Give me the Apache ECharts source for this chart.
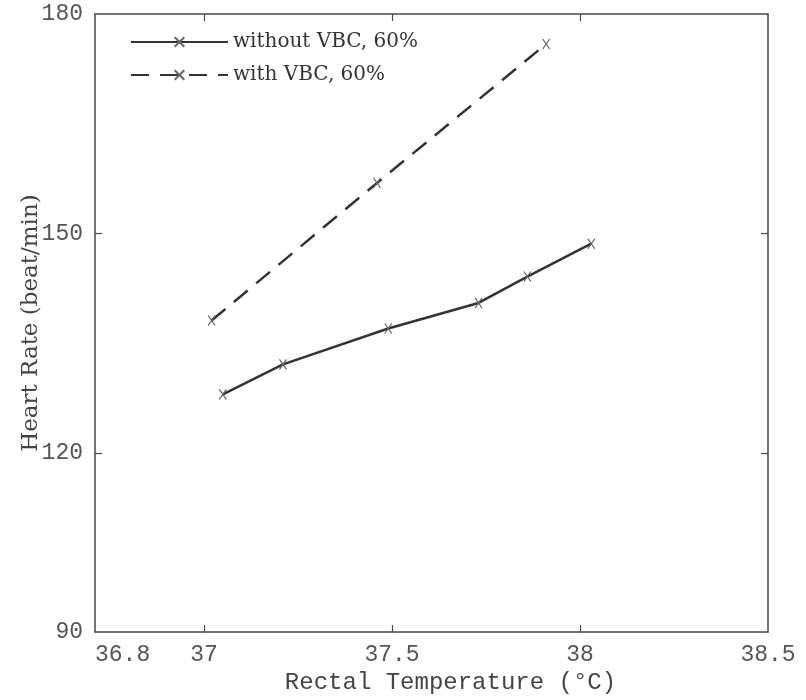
<!DOCTYPE html>
<html>
<head>
<meta charset="utf-8">
<script src="https://cdn.jsdelivr.net/npm/echarts@6/dist/echarts.min.js"></script>
<style>
  html, body { margin: 0; padding: 0; background: #ffffff; }
  #chart { width: 806px; height: 700px; }
</style>
</head>
<body>
<div id="chart"></div>
<script>
// ---- data ----
const seriesNames = ['without VBC, 60%', 'with VBC, 60%'];
const withoutX = [37.05, 37.21, 37.49, 37.73, 37.86, 38.03];
const withoutY = [128.0, 132.1, 137.0, 140.5, 144.1, 148.6];
const withX = [37.02, 37.46, 37.91];
const withY = [138.1, 156.9, 175.9];

// axis extents as drawn in the reference (corner labels sit at the frame corners)
const xMin = 36.71, xMax = 38.5;
const yMin = 95.5, yMax = 180;
const xTickValues = [37, 37.5, 38];
const xLabelValues = [36.71, 37, 37.5, 38, 38.5];
const xLabelTexts = ['36.8', '37', '37.5', '38', '38.5'];
const yTickValues = [120, 150];
const yLabelValues = [95.5, 120, 150, 180];
const yLabelTexts = ['90', '120', '150', '180'];

function labelFor(values, texts) {
  return function (v) {
    for (let i = 0; i < values.length; i++) {
      if (Math.abs(values[i] - v) < 1e-6) return texts[i];
    }
    return '';
  };
}
function pairs(xs, ys) { return xs.map((x, i) => [x, ys[i]]); }

const axisColor = '#484848';
const markSymbol = 'path://M0,0L6,10M6,0L0,10';

const chart = echarts.init(document.getElementById('chart'), null, { renderer: 'canvas' });
chart.setOption({
  backgroundColor: '#ffffff',
  animation: false,
  grid: { left: 95, right: 38, top: 14, bottom: 64, containLabel: false },
  legend: {
    data: seriesNames,
    orient: 'vertical',
    left: 125,
    top: 27,
    itemWidth: 97,
    itemHeight: 12,
    itemGap: 13,
    textStyle: { fontFamily: 'DejaVu Serif', fontSize: 20, color: '#333' }
  },
  xAxis: [
    {
      type: 'value', min: xMin, max: xMax, position: 'bottom',
      name: 'Rectal Temperature (°C)', nameLocation: 'middle', nameGap: 37,
      nameTextStyle: { fontFamily: 'Liberation Mono', fontSize: 24, color: '#444', padding: [0, 0, 0, 38] },
      axisLine: { show: true, lineStyle: { color: axisColor, width: 1.5 } },
      axisTick: { show: true, inside: true, length: 7, customValues: xTickValues, lineStyle: { color: axisColor, width: 1.2 } },
      axisLabel: {
        customValues: xLabelValues, formatter: labelFor(xLabelValues, xLabelTexts),
        alignMinLabel: 'left', margin: 11,
        fontFamily: 'Liberation Mono', fontSize: 23, color: '#555'
      },
      splitLine: { show: false }
    },
    {
      type: 'value', min: xMin, max: xMax, position: 'top',
      axisLine: { show: true, lineStyle: { color: axisColor, width: 1.5 } },
      axisTick: { show: true, inside: true, length: 7, customValues: xTickValues, lineStyle: { color: axisColor, width: 1.2 } },
      axisLabel: { show: false },
      splitLine: { show: false }
    }
  ],
  yAxis: [
    {
      type: 'value', min: yMin, max: yMax, position: 'left',
      name: 'Heart Rate (beat/min)', nameLocation: 'middle', nameGap: 52, nameRotate: 90,
      nameMoveOverlap: false,
      nameTextStyle: { fontFamily: 'DejaVu Serif', fontSize: 23, color: '#444' },
      axisLine: { show: true, lineStyle: { color: axisColor, width: 1.5 } },
      axisTick: { show: true, inside: true, length: 7, customValues: yTickValues, lineStyle: { color: axisColor, width: 1.2 } },
      axisLabel: {
        customValues: yLabelValues, formatter: labelFor(yLabelValues, yLabelTexts),
        margin: 12, fontFamily: 'Liberation Mono', fontSize: 23, color: '#555'
      },
      splitLine: { show: false }
    },
    {
      type: 'value', min: yMin, max: yMax, position: 'right',
      axisLine: { show: true, lineStyle: { color: axisColor, width: 1.5 } },
      axisTick: { show: true, inside: true, length: 7, customValues: yTickValues, lineStyle: { color: axisColor, width: 1.2 } },
      axisLabel: { show: false },
      splitLine: { show: false }
    }
  ],
  series: [
    {
      name: seriesNames[0], type: 'line', xAxisIndex: 0, yAxisIndex: 0,
      data: pairs(withoutX, withoutY),
      symbol: markSymbol, symbolSize: [7, 10], showSymbol: true,
      lineStyle: { color: '#333', width: 2.5, type: 'solid' },
      itemStyle: { color: 'rgba(0,0,0,0)', borderColor: '#666', borderWidth: 1.2 }
    },
    {
      name: seriesNames[1], type: 'line', xAxisIndex: 0, yAxisIndex: 0,
      data: pairs(withX, withY),
      symbol: markSymbol, symbolSize: [7, 10], showSymbol: true,
      lineStyle: { color: '#333', width: 2.5, type: [18, 11] },
      itemStyle: { color: 'rgba(0,0,0,0)', borderColor: '#666', borderWidth: 1.2 }
    }
  ]
});
</script>
</body>
</html>
